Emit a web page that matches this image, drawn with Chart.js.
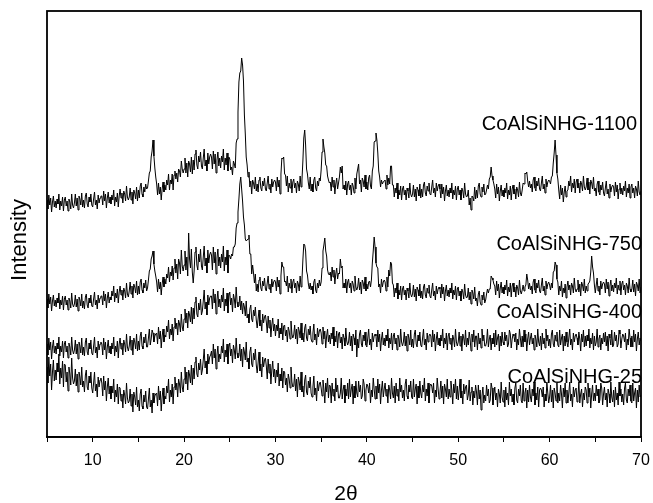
<!DOCTYPE html>
<html>
<head>
<meta charset="utf-8">
<script src="https://cdn.jsdelivr.net/npm/chart.js@4.4.1/dist/chart.umd.min.js"></script>
<style>
  html, body { margin: 0; padding: 0; background: #fff; }
  canvas { display: block; }
</style>
</head>
<body>
<canvas id="xrd" width="653" height="503"></canvas>
<script>
// 2-theta sampling grid, 5..70 deg every 0.1 deg
const angleStart = 5, angleStep = 0.1, pointCount = 651;
const twoTheta = Array.from({length: pointCount}, (_, i) => +(angleStart + i * angleStep).toFixed(1));
const xTicks = [10, 20, 30, 40, 50, 60, 70];

const seriesNames = ["CoAlSiNHG-1100", "CoAlSiNHG-750", "CoAlSiNHG-400", "CoAlSiNHG-25"];

// intensities (arbitrary units, traces already offset), one row = one degree (n.0 .. n.9)
const intensity1100 = [
  237,228,242,232,239,225,235,241,230,236,
  229,238,233,243,227,236,231,240,226,237,
  240,231,236,226,238,235,228,243,232,229,
  234,243,231,239,227,241,238,232,244,230,
  237,229,241,244,233,230,240,235,243,232,
  230,238,245,232,237,228,242,234,239,241,
  241,232,246,236,243,229,239,245,234,240,
  233,242,237,247,231,240,235,244,230,241,
  248,239,244,234,246,243,236,251,240,237,
  240,249,237,245,233,247,244,238,250,236,
  247,239,251,254,243,240,250,245,253,248,
  249,256,264,266,280,286,297,281,269,260,
  253,242,254,243,250,237,248,255,245,252,
  247,257,252,263,247,257,253,263,247,262,
  266,258,264,255,268,266,260,276,268,264,
  268,279,264,274,260,276,273,265,280,263,
  277,267,283,287,272,268,281,275,285,271,
  268,279,288,271,277,266,284,273,280,283,
  280,268,286,273,283,264,277,285,271,279,
  269,281,275,288,267,279,272,284,266,280,
  278,267,270,262,276,273,269,294,298,325,
  355,364,366,379,372,356,322,303,280,272,
  260,265,250,256,243,257,254,248,260,246,
  253,245,257,260,249,246,256,251,259,248,
  246,254,261,248,253,244,258,250,255,257,
  255,246,260,250,257,243,263,279,278,280,
  263,262,251,261,245,254,249,258,244,255,
  258,249,254,244,256,253,246,261,250,257,
  276,299,307,292,268,263,254,248,260,246,
  253,245,257,260,249,246,256,251,259,256,
  267,285,298,290,284,272,271,261,257,254,
  255,246,260,250,257,243,253,259,248,254,
  260,270,264,271,248,252,247,256,242,253,
  256,247,252,242,254,251,244,259,248,263,
  268,273,253,257,245,259,256,250,262,248,
  255,247,259,262,251,248,266,271,295,296,
  304,297,284,266,260,250,257,253,255,256,
  257,248,262,252,259,253,271,271,252,252,
  240,249,244,254,238,247,242,251,237,248,
  251,242,247,237,249,246,239,254,243,240,
  243,252,240,248,236,250,247,241,253,239,
  248,240,252,255,244,241,251,246,254,243,
  242,250,257,244,249,240,254,246,251,253,
  248,239,253,243,250,236,246,252,241,247,
  240,249,244,254,238,247,242,251,237,248,
  251,242,247,237,249,246,239,254,243,240,
  241,247,232,239,227,241,240,236,250,238,
  247,239,251,254,243,240,250,245,253,242,
  243,247,252,248,258,260,270,261,257,253,
  248,239,253,243,250,236,246,252,241,247,
  240,249,244,254,238,247,242,251,237,248,
  252,243,248,238,250,247,240,255,244,241,
  247,254,253,264,263,265,256,250,256,249,
  253,245,257,260,249,246,256,251,259,248,
  246,254,261,248,253,244,258,250,255,257,
  256,253,260,261,274,284,297,282,264,258,
  247,238,252,242,249,235,245,251,240,246,
  247,256,251,261,245,254,249,258,244,255,
  258,249,254,244,256,253,246,261,250,247,
  250,259,247,255,243,257,254,248,260,246,
  249,241,253,256,245,242,252,247,255,244,
  241,249,256,243,248,239,253,245,250,252,
  250,241,255,245,252,238,248,254,243,249,
  242,251,246,256,240,249,244,253,239,250,
  253,244,249,239,251,248,241,256,245,242,
  246
];
const intensity750 = [
  138,129,143,133,140,126,136,142,131,137,
  130,139,134,144,128,137,132,141,127,138,
  141,132,137,127,139,136,129,144,133,130,
  133,142,130,138,126,140,137,131,143,129,
  136,128,140,143,132,129,139,134,142,131,
  130,138,145,132,137,128,142,134,139,141,
  141,132,146,136,143,129,139,145,134,140,
  137,146,141,151,135,144,139,148,134,145,
  151,142,147,137,149,146,139,154,143,140,
  146,155,143,151,139,153,150,144,156,142,
  151,143,155,158,147,144,154,149,157,146,
  149,157,166,168,178,181,186,173,166,161,
  155,145,158,148,155,142,153,160,150,158,
  153,163,159,170,155,165,161,171,157,169,
  178,164,173,158,178,174,163,187,171,166,
  172,186,167,180,161,204,178,169,188,165,
  154,166,185,190,172,167,183,175,188,171,
  167,180,191,171,179,164,187,174,182,185,
  182,167,190,174,185,163,179,188,171,180,
  169,183,175,191,166,180,172,187,164,182,
  181,178,183,181,190,190,193,209,214,225,
  238,253,260,248,236,220,212,198,196,197,
  198,202,183,183,163,172,164,154,163,146,
  153,145,157,160,149,146,156,151,159,148,
  146,154,161,148,153,144,158,150,155,157,
  155,146,160,150,157,143,161,175,170,170,
  155,156,151,161,145,154,149,158,144,155,
  158,149,154,144,156,153,146,161,150,157,
  177,193,192,186,166,162,153,148,154,147,
  151,143,155,158,147,144,154,149,157,151,
  155,169,186,192,199,186,181,167,163,162,
  165,156,170,160,167,153,163,169,158,164,
  163,178,169,171,149,154,149,158,144,155,
  158,149,154,144,156,153,146,161,150,147,
  150,159,147,155,143,157,154,148,160,146,
  153,148,155,156,150,157,174,186,200,190,
  174,170,169,150,153,144,158,150,155,157,
  155,146,160,150,167,161,175,173,154,152,
  140,149,144,154,138,147,142,151,137,148,
  151,142,147,137,149,146,139,154,143,140,
  143,152,140,148,136,150,147,141,153,139,
  146,138,150,153,142,139,149,144,152,141,
  139,147,154,141,146,137,151,143,148,150,
  148,139,153,143,150,136,146,152,141,147,
  140,149,144,154,138,147,142,151,137,148,
  150,141,146,136,148,145,138,153,142,139,
  140,149,137,145,133,147,144,138,150,136,
  139,131,143,146,135,132,142,137,145,134,
  137,143,148,144,148,148,161,159,157,153,
  151,142,156,146,153,139,149,155,144,150,
  143,152,147,157,141,150,145,154,140,151,
  154,145,150,140,152,149,142,157,146,143,
  147,152,146,150,152,163,157,148,154,147,
  151,143,155,158,147,144,154,149,157,146,
  144,152,159,146,151,142,156,148,153,155,
  152,147,154,149,165,166,175,172,158,155,
  142,151,146,156,140,149,144,153,139,150,
  156,147,152,142,154,151,144,159,148,145,
  148,157,145,153,141,155,152,146,158,144,
  151,146,153,154,156,165,181,170,164,152,
  144,152,159,146,151,142,156,148,153,155,
  153,144,158,148,155,141,151,157,146,152,
  145,154,149,159,143,152,147,156,142,153,
  156,147,152,142,154,151,144,159,148,145,
  148,157,145,153,141,155,152,146,158,144,
  150
];
const intensity400 = [
  93,82,99,87,95,78,90,97,84,91,
  83,94,88,100,81,91,85,96,79,93,
  96,85,91,79,94,90,82,100,87,83,
  87,97,83,93,78,95,91,84,99,82,
  90,81,95,99,85,82,94,88,97,84,
  82,91,100,84,90,79,96,87,93,95,
  93,82,99,87,95,78,90,97,84,91,
  83,94,88,100,81,91,85,96,79,93,
  99,88,94,82,97,93,85,103,90,86,
  91,101,87,97,82,99,95,88,103,86,
  96,87,101,105,91,88,100,94,103,90,
  90,99,108,92,98,107,104,95,101,103,
  104,93,110,98,106,89,101,108,95,102,
  100,111,105,117,98,108,102,113,96,110,
  119,108,114,102,117,113,105,123,110,106,
  118,128,114,124,109,126,122,115,130,113,
  129,118,135,140,123,120,134,127,138,122,
  126,136,147,128,135,122,142,132,139,141,
  141,128,148,134,143,123,137,146,130,138,
  129,142,135,149,126,138,131,144,124,141,
  145,132,139,125,143,138,129,150,135,130,
  131,141,127,136,123,134,130,121,136,119,
  123,114,128,132,118,115,127,121,130,117,
  109,118,127,111,117,106,123,114,120,122,
  115,104,121,109,117,100,112,119,106,113,
  101,112,106,118,99,109,103,114,97,111,
  112,101,107,95,110,106,98,116,103,99,
  102,112,98,108,93,110,106,99,114,97,
  104,95,109,113,99,96,108,102,111,98,
  95,104,113,97,103,92,109,100,106,108,
  104,93,110,98,106,89,101,108,95,102,
  93,104,98,110,91,101,95,106,89,103,
  105,94,100,88,103,99,91,109,96,92,
  95,105,91,101,86,103,99,92,107,80,
  98,89,103,107,93,90,102,96,105,92,
  90,99,108,92,98,87,104,95,101,103,
  101,90,107,95,103,86,98,105,92,99,
  91,102,96,108,89,99,93,104,87,101,
  104,93,99,87,102,98,90,108,95,91,
  95,105,91,101,86,103,99,92,107,90,
  98,89,103,107,93,90,102,96,105,92,
  90,99,108,92,98,87,104,95,101,103,
  101,90,107,95,103,86,98,105,92,99,
  91,102,96,108,89,99,93,104,87,101,
  104,93,99,87,102,98,90,108,95,91,
  95,105,91,101,86,103,99,92,107,90,
  99,92,105,98,86,103,95,107,90,101,
  101,87,104,93,99,89,108,96,102,91,
  91,95,108,90,98,102,87,99,93,104,
  90,107,92,99,103,86,101,91,105,95,
  92,105,96,102,90,93,107,103,89,98,
  103,101,95,104,87,98,92,108,99,90,
  101,90,107,95,103,86,98,105,92,99,
  104,93,99,87,102,98,90,108,95,91,
  101,87,104,93,99,89,108,96,102,91,
  98,89,103,107,93,90,102,96,105,92,
  90,107,92,99,103,86,101,91,105,95,
  90,99,108,92,98,87,104,95,101,103,
  99,92,105,98,86,103,95,107,90,101,
  91,102,96,108,89,99,93,104,87,101,
  91,95,108,90,98,102,87,99,93,104,
  95,105,91,101,86,103,99,92,107,90,
  92,105,96,102,90,93,107,103,89,98,
  103,101,95,104,87,98,92,108,99,90,
  101,90,107,95,103,86,98,105,92,99,
  96
];
const intensity25 = [
  70,54,80,61,73,47,65,77,56,67,
  57,74,65,83,53,69,59,76,50,73,
  72,55,65,46,70,63,52,79,59,53,
  56,68,51,63,45,65,60,52,70,50,
  56,45,62,67,50,47,61,54,65,49,
  44,54,65,46,53,40,60,50,57,59,
  54,41,61,47,56,36,50,59,43,51,
  38,51,44,58,35,47,40,53,33,50,
  49,36,43,29,47,42,33,54,39,34,
  36,48,31,43,25,45,40,32,50,30,
  37,26,43,48,31,28,42,35,46,30,
  28,38,49,30,37,24,44,34,41,43,
  44,31,51,37,46,26,40,49,33,41,
  38,51,44,58,35,47,40,53,33,50,
  60,47,54,40,58,53,44,65,50,45,
  58,70,53,65,47,67,62,54,72,52,
  69,58,75,80,63,60,74,67,78,62,
  67,77,88,69,76,63,83,73,80,82,
  86,73,93,79,88,68,82,91,75,83,
  78,91,84,98,75,87,80,93,73,90,
  94,81,88,74,92,87,78,99,84,79,
  81,93,76,88,70,90,85,77,95,75,
  79,68,85,90,73,70,84,77,88,72,
  64,74,85,66,73,60,80,70,77,79,
  71,58,78,64,73,53,67,76,60,68,
  54,67,60,74,51,63,56,69,49,66,
  65,52,59,45,63,58,49,70,55,50,
  51,63,46,58,40,60,55,47,65,45,
  51,40,57,62,45,42,56,49,60,44,
  40,50,61,42,49,36,56,46,53,55,
  49,41,57,48,34,54,45,59,39,52,
  51,34,54,41,48,36,59,45,52,39,
  39,44,59,38,47,52,34,48,41,54,
  38,58,40,48,53,33,51,39,56,44,
  40,56,45,52,38,41,58,53,36,47,
  53,51,44,54,34,47,40,59,48,38,
  51,38,58,44,53,33,47,56,40,48,
  54,41,48,34,52,47,38,59,44,39,
  51,34,54,41,48,36,59,45,52,39,
  47,36,53,58,41,38,52,45,56,40,
  38,58,40,48,53,33,51,39,56,44,
  39,52,45,59,36,48,41,54,34,51,
  53,51,44,54,34,47,40,59,48,38,
  44,56,39,51,33,53,48,40,58,38,
  48,40,56,47,33,53,44,58,38,51,
  37,47,58,39,46,33,53,43,50,52,
  37,42,57,36,45,50,32,46,39,52,
  45,32,52,38,47,27,41,50,34,42,
  36,52,41,48,34,37,54,49,32,43,
  50,37,44,30,48,43,34,55,40,35,
  47,30,50,37,44,32,55,41,48,35,
  43,32,49,54,37,34,48,41,52,36,
  34,54,36,44,49,29,47,35,52,40,
  35,48,41,55,32,44,37,50,30,47,
  49,47,40,50,30,43,36,55,44,34,
  40,52,35,47,29,49,44,36,54,34,
  44,36,52,43,29,49,40,54,34,47,
  34,44,55,36,43,30,50,40,47,49,
  35,40,55,34,43,48,30,44,37,50,
  47,34,54,40,49,29,43,52,36,44,
  36,52,41,48,34,37,54,49,32,43,
  50,37,44,30,48,43,34,55,40,35,
  47,30,50,37,44,32,55,41,48,35,
  43,32,49,54,37,34,48,41,52,36,
  34,54,36,44,49,29,47,35,52,40,
  42
];
const allIntensities = [intensity1100, intensity750, intensity400, intensity25];

// where the sample names sit (canvas px, right aligned)
const labelSpots = [
  {right: 637, y: 124},
  {right: 642, y: 244},
  {right: 642, y: 312},
  {right: 642, y: 377}
];

const FONT = '"Liberation Sans", Arial, Helvetica, sans-serif';

const decorations = {
  id: 'decorations',
  afterDraw(chart) {
    const {ctx, chartArea: a} = chart;
    ctx.save();
    ctx.strokeStyle = '#000';
    ctx.lineWidth = 1.8;
    ctx.strokeRect(a.left, a.top, a.right - a.left, a.bottom - a.top);

    ctx.fillStyle = '#000';
    ctx.font = '20px ' + FONT;
    ctx.textAlign = 'right';
    ctx.textBaseline = 'middle';
    seriesNames.forEach((name, i) => ctx.fillText(name, labelSpots[i].right, labelSpots[i].y));

    // axis titles
    ctx.textAlign = 'center';
    ctx.font = '21px ' + FONT;
    ctx.fillText('2\u03B8', 346, 494);
    ctx.font = '22px ' + FONT;
    ctx.translate(20, 240);
    ctx.rotate(-Math.PI / 2);
    ctx.fillText('Intensity', 0, 0);
    ctx.restore();
  }
};

const datasets = allIntensities.map((arr, i) => ({
  label: seriesNames[i],
  data: twoTheta.map((x, j) => ({x, y: arr[j]})),
  borderColor: '#000',
  borderWidth: 1,
  pointRadius: 0,
  tension: 0,
  fill: false
}));

new Chart(document.getElementById('xrd'), {
  type: 'line',
  data: {datasets},
  options: {
    responsive: false,
    animation: false,
    devicePixelRatio: 1,
    layout: {padding: {left: 47, right: 12, top: 11, bottom: 0}},
    plugins: {legend: {display: false}, tooltip: {enabled: false}},
    scales: {
      x: {
        type: 'linear',
        min: 5,
        max: 70,
        afterFit: (scale) => {
          scale.height = 66;
          scale.paddingLeft = 0;
          scale.paddingRight = 0;
        },
        afterBuildTicks: (scale) => {
          scale.ticks = [5, 10, 15, 20, 25, 30, 35, 40, 45, 50, 55, 60, 65, 70].map(v => ({value: v}));
        },
        ticks: {
          autoSkip: false,
          maxRotation: 0,
          padding: 9,
          color: '#000',
          font: {family: FONT, size: 16},
          callback: (v) => xTicks.includes(v) ? String(v) : ''
        },
        grid: {display: true, drawOnChartArea: false, drawTicks: true, tickLength: 5, color: '#000', lineWidth: 1},
        border: {display: true, color: '#000', width: 1.8}
      },
      y: {
        display: false,
        min: 0,
        max: 426
      }
    }
  },
  plugins: [decorations]
});
</script>
</body>
</html>
